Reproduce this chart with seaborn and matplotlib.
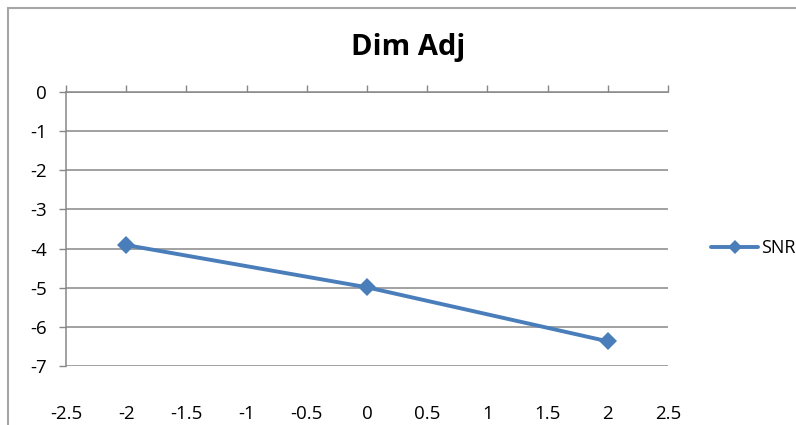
import matplotlib
matplotlib.use("Agg")
import matplotlib.pyplot as plt
import seaborn as sns
import pandas as pd
from matplotlib.patches import Rectangle

# data
x_vals = [-2, 0, 2]
snr_vals = [-3.91, -4.99, -6.37]
series_name = "SNR"
title = "Dim Adj"

x_ticks = [-2.5, -2, -1.5, -1, -0.5, 0, 0.5, 1, 1.5, 2, 2.5]
y_ticks = [0, -1, -2, -3, -4, -5, -6, -7]

df = pd.DataFrame({"x": x_vals, "y": snr_vals, "series": series_name})

sns.set_theme(style="white")
plt.rcParams["font.family"] = ["Open Sans", "DejaVu Sans"]
plt.rcParams["text.color"] = "black"

W, H = 796, 425
fig = plt.figure(figsize=(W / 100, H / 100), dpi=100)
ax = fig.add_axes([66 / W, 1 - 366 / H, (668 - 66) / W, (366 - 92) / H])

grid_col = "#878787"
line_col = "#4A7EBB"

sns.lineplot(data=df, x="x", y="y", hue="series", palette=[line_col],
             marker="D", markersize=9.5, markeredgewidth=0, linewidth=2.8,
             ax=ax, legend=True)

ax.set_xlim(-2.5, 2.5)
ax.set_ylim(-7, 0)
ax.set_xticks(x_ticks)
ax.set_xticklabels([f"{t:g}" for t in x_ticks])
ax.set_yticks(y_ticks)
ax.set_yticklabels([f"{t:g}" for t in y_ticks])
ax.set_xlabel("")
ax.set_ylabel("")

# horizontal gridlines like Excel
for yv in y_ticks:
    ax.axhline(yv, color=grid_col, lw=1.1, zorder=0)

# x axis crosses at y=0 (top), labels sit low
for s in ["bottom", "right"]:
    ax.spines[s].set_visible(False)
ax.spines["top"].set_color(grid_col)
ax.spines["left"].set_color(grid_col)
ax.spines["top"].set_linewidth(1.1)
ax.spines["left"].set_linewidth(1.1)
ax.tick_params(axis="x", top=True, bottom=False, labeltop=False, labelbottom=True,
               direction="out", length=5, width=1, color=grid_col, pad=23,
               labelsize=13.5, labelcolor="black")
ax.tick_params(axis="y", left=True, direction="out", length=5, width=1,
               color=grid_col, pad=9, labelsize=13.5, labelcolor="black")

fig.text(408 / W, 1 - 48 / H, title, fontsize=21, fontweight="bold",
         color="black", ha="center", va="center")

leg = ax.legend(loc="center left", bbox_to_anchor=(1.045, 0.43), frameon=False,
                fontsize=13, handlelength=2.6, handletextpad=0.15,
                markerscale=0.8)
for t in leg.get_texts():
    t.set_color("black")

# chart area border
fig.patches.append(Rectangle((8 / W, -0.1), 1.2, 1 - 8 / H + 0.1,
                             transform=fig.transFigure, fill=False,
                             edgecolor="#a6a6a6", lw=1.5))

fig.savefig("out.png", dpi=100)
